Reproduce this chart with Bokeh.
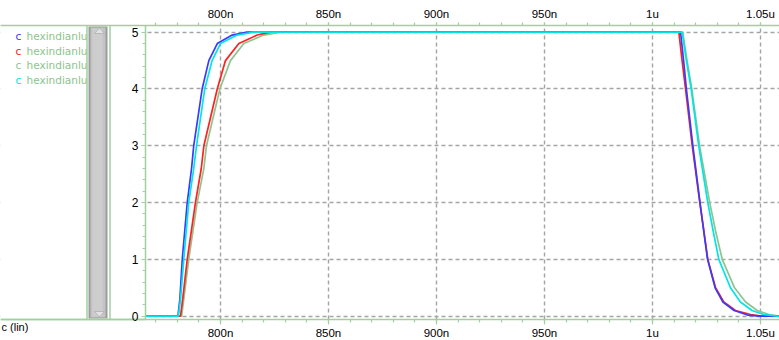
from bokeh.plotting import figure
from bokeh.models import Range1d, LinearAxis, FixedTicker
from bokeh.core.properties import value
from bokeh.embed import file_html
from bokeh.resources import INLINE

# ---------------- data (time in ns, voltage in V) ----------------
blue_t = [760, 780.3, 781.2, 782.3, 784.6, 786.6, 787.6, 791.5, 794.6, 798.5, 805.4, 812.3,
          1013.0, 1014.4, 1015.7, 1018.7, 1022.0, 1023.7, 1025.5, 1029.0, 1032.6, 1037.8, 1044.0, 1049.5, 1062]
blue_v = [0, 0, 0.3, 1, 2, 2.6, 3, 4, 4.5, 4.8, 4.95, 5,
          5, 4.5, 4, 3, 2, 1.5, 1, 0.5, 0.25, 0.1, 0.02, 0, 0]

red_t = [760, 781.5, 782.5, 784.6, 788.4, 791.1, 792.3, 798.5, 802.3, 808.5, 817.0, 823.1,
         1012.2, 1013.7, 1015.3, 1018.4, 1021.9, 1023.8, 1025.6, 1029.2, 1033.0, 1038.4, 1045.4, 1050.5, 1062]
red_v = [0, 0, 0.3, 1, 2, 2.6, 3, 4, 4.5, 4.8, 4.95, 5,
         5, 4.5, 4, 3, 2, 1.5, 1, 0.5, 0.25, 0.1, 0.03, 0, 0]

green_t = [760, 782.0, 783.0, 785.3, 789.2, 792.3, 793.5, 799.7, 804.6, 810.8, 820.0, 827.8,
           1014.0, 1016.0, 1018.2, 1021.8, 1026.5, 1029.2, 1032.3, 1038.0, 1043.1, 1048.5, 1053.9, 1059.0, 1062]
green_v = [0, 0, 0.3, 1, 2, 2.6, 3, 4, 4.5, 4.8, 4.95, 5,
           5, 4.5, 4, 3, 2, 1.5, 1, 0.5, 0.25, 0.1, 0.03, 0, 0]

cyan_t = [760, 780.5, 781.5, 783.0, 785.3, 787.6, 788.9, 792.7, 796.1, 800.0, 807.7, 815.4,
          1013.7, 1015.7, 1017.9, 1021.4, 1025.6, 1028.1, 1030.7, 1036.1, 1040.7, 1046.1, 1051.5, 1057.7, 1062]
cyan_v = [0, 0, 0.3, 1, 2, 2.6, 3, 4, 4.5, 4.8, 4.95, 5,
          5, 4.5, 4, 3, 2, 1.5, 1, 0.5, 0.25, 0.1, 0.03, 0, 0]

legend_names = ["hexindianlu", "hexindianlu", "hexindianlu", "hexindianlu"]
legend_colors = ["#3a3aff", "#ff2020", "#8fc48f", "#00e5e5"]

x_ticks = [800, 850, 900, 950, 1000, 1050]
x_tick_labels = ["800n", "850n", "900n", "950n", "1u", "1.05u"]
x_minor = [770 + 10 * i for i in range(29)]
y_ticks = [0, 1, 2, 3, 4, 5]
y_tick_labels = ["0", "1", "2", "3", "4", "5"]
y_minor = [round(0.2 * i, 1) for i in range(26)]
unit_label = "c (lin)"

# ---------------- layout constants ----------------
GREEN = "#9fd09f"
GRID = "#a4a4a4"
X0, X1 = 698.15, 1058.80        # view range (ns) over the full frame width
Y0, Y1 = -0.428, 5.118          # view range (V) over the frame height (incl. bottom strip)
Y_PLOT_BOTTOM = -0.058          # where the time axis sits (V)
Y_AXIS_T = 765.28               # where the value axis sits (ns)

p = figure(width=779, height=340, output_backend="svg", toolbar_location=None,
           x_range=Range1d(X0, X1), y_range=Range1d(Y0, Y1),
           min_border_left=0, min_border_right=0, min_border_top=25, min_border_bottom=0)
p.outline_line_color = None
p.background_fill_color = "white"
p.border_fill_color = "white"

# pixel-like coordinates for the left-hand legend / scroll panel
p.extra_x_ranges = {"px": Range1d(0, 779)}
p.extra_y_ranges = {"px": Range1d(340, 25)}

xt = FixedTicker(ticks=x_ticks, minor_ticks=x_minor)
yt = FixedTicker(ticks=y_ticks, minor_ticks=y_minor)

above = LinearAxis(ticker=xt)
p.add_layout(above, "above")
p.xaxis.ticker = xt
p.xaxis.major_label_overrides = {t: s for t, s in zip(x_ticks, x_tick_labels)}
p.xaxis.axis_line_color = GREEN
p.xaxis.axis_line_width = 1.5
p.xaxis.major_tick_line_color = GREEN
p.xaxis.minor_tick_line_color = GREEN
p.xaxis.major_tick_line_width = 1.2
p.xaxis.minor_tick_line_width = 1.2
p.xaxis.major_tick_in = 0
p.xaxis.minor_tick_in = 0
p.xaxis.minor_tick_out = 3
p.xaxis.major_label_text_font = "Liberation Sans"
p.xaxis.major_label_text_font_size = "11.5px"
p.xaxis.major_label_text_color = "black"
bottom = p.below[0]
bottom.fixed_location = Y_PLOT_BOTTOM
bottom.major_tick_out = 5
bottom.major_label_standoff = 3
above.major_tick_out = 3
above.major_label_standoff = 3

p.yaxis.ticker = yt
p.yaxis.fixed_location = Y_AXIS_T
p.yaxis.bounds = (Y_PLOT_BOTTOM, Y1)
p.yaxis.major_label_overrides = {t: s for t, s in zip(y_ticks, y_tick_labels)}
p.yaxis.axis_line_color = GREEN
p.yaxis.axis_line_width = 1.5
p.yaxis.major_tick_line_color = GREEN
p.yaxis.minor_tick_line_color = GREEN
p.yaxis.major_tick_line_width = 1.2
p.yaxis.minor_tick_line_width = 1.2
p.yaxis.major_tick_out = 4
p.yaxis.major_tick_in = 0
p.yaxis.minor_tick_out = 3
p.yaxis.minor_tick_in = 0
p.yaxis.major_label_standoff = 3
p.yaxis.major_label_text_font = "Liberation Sans"
p.yaxis.major_label_text_font_size = "12px"
p.yaxis.major_label_text_color = "black"

p.xgrid.ticker = xt
p.ygrid.ticker = yt
for g in (p.xgrid, p.ygrid):
    g.grid_line_color = GRID
    g.grid_line_dash = "4 3"
    g.grid_line_width = 1.4

# ---------------- waveforms ----------------
for t, v, c in [(green_t, green_v, legend_colors[2]),
                (red_t, red_v, legend_colors[1]),
                (blue_t, blue_v, legend_colors[0]),
                (cyan_t, cyan_v, legend_colors[3])]:
    p.line(t, v, line_color=c, line_width=1.7)

# ---------------- masks for the strip under the plot and the left panel ----------------
p.quad(left=0, right=779, bottom=340, top=319, x_range_name="px", y_range_name="px",
       fill_color="white", line_color=None)
p.quad(left=0, right=145, bottom=340, top=25, x_range_name="px", y_range_name="px",
       fill_color="white", line_color=None)

# ---------------- left panel (legend + scroll bar) ----------------
rows = [35, 50, 64.5, 79]
p.text(x=[15] * 4, y=rows, text=["c"] * 4, text_color=legend_colors,
       text_font=value("DejaVu Sans"), text_font_size="10.5px", text_baseline="middle",
       x_range_name="px", y_range_name="px")
p.text(x=[26] * 4, y=rows, text=legend_names, text_color="#8cc48c",
       text_font=value("DejaVu Sans"), text_font_size="10.5px", text_baseline="middle",
       x_range_name="px", y_range_name="px")

# scroll bar
p.quad(left=86.5, right=110, bottom=319, top=25, x_range_name="px", y_range_name="px",
       fill_color="white", line_color=None)
p.quad(left=88, right=107, bottom=318, top=26, x_range_name="px", y_range_name="px",
       fill_color="#9c9c9c", line_color=None)
p.quad(left=90, right=105, bottom=317, top=27, x_range_name="px", y_range_name="px",
       fill_color="#c4c4c4", line_color=None)
p.quad(left=92, right=102, bottom=316, top=28, x_range_name="px", y_range_name="px",
       fill_color="#cdcdcd", line_color=None)
p.patches(xs=[[94, 104, 99], [94, 104, 99]], ys=[[33, 33, 27.5], [311, 311, 316.5]],
          x_range_name="px", y_range_name="px", fill_color="#e2e2e2", line_color="#b0b0b0",
          line_width=0.8)
p.segment(x0=[86.5, 109.5, 0], y0=[25, 25, 319], x1=[86.5, 109.5, 145], y1=[319, 319, 319],
          x_range_name="px", y_range_name="px", line_color=GREEN, line_width=1.5)

p.text(x=[1], y=[326], text=[unit_label], text_color="black",
       text_font=value("Liberation Sans"), text_font_size="11px", text_baseline="middle",
       x_range_name="px", y_range_name="px")

open("out.html", "w").write(file_html(p, INLINE))
